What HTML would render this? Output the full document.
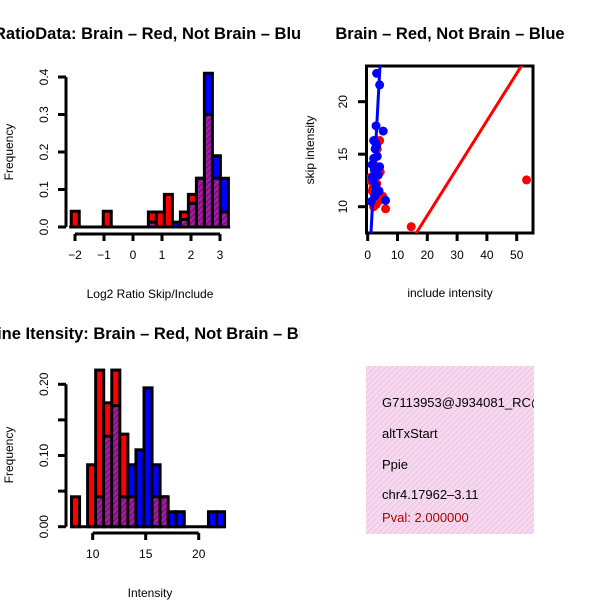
<!DOCTYPE html>
<html><head><meta charset="utf-8"><style>
html,body{margin:0;padding:0;background:#fff;}
svg{display:block;font-family:"Liberation Sans",Arial,sans-serif;}
</style></head><body>
<svg id="s" width="600" height="600" viewBox="0 0 600 600" xmlns="http://www.w3.org/2000/svg">
<defs>
<pattern id="hatch" width="4" height="4" patternUnits="userSpaceOnUse" patternTransform="rotate(45)">
<rect width="4" height="4" fill="#a020a0"/><rect width="1.5" height="4" fill="#7a107a"/></pattern>
<pattern id="pinkhatch" width="4" height="4" patternUnits="userSpaceOnUse" patternTransform="rotate(45)">
<rect width="4" height="4" fill="#f8d8f0"/><rect width="1" height="4" fill="#e4c8e0"/></pattern>
<clipPath id="c1"><rect x="0" y="0" width="300" height="300"/></clipPath>
<clipPath id="c3"><rect x="0" y="300" width="300" height="300"/></clipPath>
<clipPath id="c4"><rect x="366" y="366" width="168" height="168"/></clipPath>
<clipPath id="c2"><rect x="367" y="66" width="166" height="167"/></clipPath>
</defs>
<text x="-6" y="39" font-size="16.5" font-weight="bold" clip-path="url(#c1)">RatioData: Brain – Red, Not Brain – Blue</text>
<text x="450" y="39" font-size="16.5" font-weight="bold" text-anchor="middle">Brain – Red, Not Brain – Blue</text>
<text x="-13" y="339" font-size="16.5" font-weight="bold" clip-path="url(#c3)">Line Itensity: Brain – Red, Not Brain – Blue</text>
<g id="g1"></g><g id="g2"></g><g id="g3"></g>
<g>
<rect x="366" y="366" width="168" height="168" fill="url(#pinkhatch)"/>
<g clip-path="url(#c4)" font-size="13">
<text x="382" y="407">G7113953@J934081_RC@j</text>
<text x="382" y="438">altTxStart</text>
<text x="382" y="469">Ppie</text>
<text x="382" y="499">chr4.17962–3.11</text>
<text x="382" y="522" fill="#b00000">Pval: 2.000000</text>
</g></g>
</svg>
<script>
// Ratio histogram data
const ratioBins=[-2.13,-1.854,-1.578,-1.302,-1.026,-0.75,-0.474,-0.198,0.078,0.354,0.53,0.806,1.082,1.358,1.634,1.91,2.186,2.462,2.738,3.014];
const ratioRed =[0.042,0,0,0,0.042,0,0,0,0,0,0.04,0.04,0.087,0,0.04,0.087,0.13,0.30,0.13,0.04];
const ratioBlue=[0,0,0,0,0,0,0,0,0,0,0.013,0,0,0.013,0.02,0.063,0.13,0.41,0.19,0.13];
const ratioWidth=0.276;
const ratioXTicks=[-2,-1,0,1,2,3];
const ratioXLabels=["−2","−1","0","1","2","3"];
const ratioYTicks=[0,0.1,0.2,0.3,0.4];
// Intensity histogram data
const intBins=[8.0,8.76,9.52,10.28,11.04,11.8,12.56,13.32,14.08,14.84,15.6,16.36,17.12,17.88,18.64,19.4,20.16,20.92,21.68];
const intRed =[0.042,0,0.087,0.22,0.174,0.22,0.13,0.042,0,0,0.042,0.042,0,0,0,0,0,0,0];
const intBlue=[0,0,0,0.042,0.127,0.17,0.042,0.087,0.108,0.195,0.087,0.042,0.021,0.021,0,0,0,0.021,0.021];
const intWidth=0.76;
const intXTicks=[10,15,20];
const intYTicks=[0,0.05,0.1,0.15,0.2];
const intYLabels=["0.00","","0.10","","0.20"];
// Scatter data
const redX=[14.6,53.3,2,6,4.5,4,1.5,3,2.5,1,3.5,5,2.2,1.8,3.2,0.8,2.8,4.2];
const redY=[8.1,12.55,10,9.8,10.8,16.3,11.5,12.2,13,12.8,10.5,11,14,11.8,15.5,12.5,10.2,13.3];
const blueX=[3,4,2.8,5.2,6,2,2.5,3.2,1.5,2.2,3.5,1.8,2.7,3.8,2.3,1.2,3,2.6,2,4,1.6,2.9];
const blueY=[22.7,21.6,17.7,17.2,10.6,16.3,15.5,14.8,14,13.5,13,12.5,12,11.5,11,10.5,15.8,16.1,14.6,13.8,12.8,11.3];
const redLine=[0.14,0.451]; // intercept, slope
const blueLine=[1.7,5.27];
const scXTicks=[0,10,20,30,40,50];
const scYTicks=[10,15,20];

const NS="http://www.w3.org/2000/svg";
function mk(p,t,a){const e=document.createElementNS(NS,t);for(const k in a)e.setAttribute(k,a[k]);p.appendChild(e);return e;}

function hist(g,bins,red,blue,w,sx,sy,ylab){
  for(let i=0;i<bins.length;i++){
    const r=red[i],b=blue[i];if(r<=0&&b<=0)continue;
    const x0=sx(bins[i]),x1=sx(bins[i]+w);
    const hi=Math.max(r,b),lo=Math.min(r,b);
    const top=mk(g,'rect',{x:x0,y:sy(hi),width:x1-x0,height:sy(0)-sy(hi),fill:r>=b?'#ff0000':'#0000ff',stroke:'#000','stroke-width':3});
    
    
    if(lo>0){const p=mk(g,'rect',{x:x0+1.5,y:sy(lo),width:x1-x0-3,height:sy(0)-sy(lo)-1.5,fill:'url(#hatch)'});
      
      
      mk(g,'line',{x1:x0,x2:x1,y1:sy(lo),y2:sy(lo),stroke:'#000','stroke-width':3});}
  }
}
function yaxis(g,ticks,labels,sy,x,name){
  const ax=mk(g,'line',{x1:x,x2:x,y1:sy(ticks[0]),y2:sy(ticks[ticks.length-1]),stroke:'#000','stroke-width':3});
  
  
  ticks.forEach((t,i)=>{mk(g,'line',{x1:x,x2:x-8,y1:sy(t),y2:sy(t),stroke:'#000','stroke-width':3});
    if(labels[i]!==''){const tx=mk(g,'text',{x:0,y:0,'font-size':12,'text-anchor':'middle',transform:`translate(${x-18},${sy(t)}) rotate(-90)`});tx.textContent=labels[i];
    
    }});
}
function xaxis(g,ticks,labels,sx,y,name){
  const ax=mk(g,'line',{x1:sx(ticks[0]),x2:sx(ticks[ticks.length-1]),y1:y,y2:y,stroke:'#000','stroke-width':3});
  
  
  ticks.forEach((t,i)=>{mk(g,'line',{x1:sx(t),x2:sx(t),y1:y,y2:y+7,stroke:'#000','stroke-width':3});
    const tx=mk(g,'text',{x:sx(t),y:y+25,'font-size':12,'text-anchor':'middle'});tx.textContent=labels[i];
    
    });
}
function label(g,txt,x,y,rot,name){const t=mk(g,'text',{x:0,y:0,'font-size':12,'text-anchor':'middle',transform:`translate(${x},${y})`+(rot?' rotate(-90)':'')});t.textContent=txt;
  
  }

// Panel 1
const g1=document.getElementById('g1');
const sx1=v=>75+29*(v+2), sy1=v=>227-375*v;
hist(g1,ratioBins,ratioRed,ratioBlue,ratioWidth,sx1,sy1,'ratio');
mk(g1,'line',{x1:sx1(-2.2),x2:sx1(3.35),y1:227,y2:227,stroke:'#000','stroke-width':3});
yaxis(g1,ratioYTicks,ratioYTicks.map(v=>v.toFixed(1)),sy1,66,'ratio-y-axis');
xaxis(g1,ratioXTicks,ratioXLabels,sx1,234,'ratio-x-axis');
label(g1,'Frequency',13,152,true,'ratio-y-title');
label(g1,'Log2 Ratio Skip/Include',150,298,false,'ratio-x-title');

// Panel 3
const g3=document.getElementById('g3');
const sx3=v=>92.7+10.6*(v-10), sy3=v=>526.7-712*v;
hist(g3,intBins,intRed,intBlue,intWidth,sx3,sy3,'intensity');
mk(g3,'line',{x1:sx3(7.9),x2:sx3(22.5),y1:526.7,y2:526.7,stroke:'#000','stroke-width':3});
yaxis(g3,intYTicks,intYLabels,sy3,66,'intensity-y-axis');
xaxis(g3,intXTicks,intXTicks.map(String),sx3,533,'intensity-x-axis');
label(g3,'Frequency',13,455,true,'intensity-y-title');
label(g3,'Intensity',150,597,false,'intensity-x-title');

// Panel 2 scatter
const g2=document.getElementById('g2');
const sx2=v=>367.7+2.98*v, sy2=v=>206.7-10.5*(v-10);
const box=mk(g2,'rect',{x:366.5,y:66,width:166.5,height:167,fill:'none',stroke:'#000','stroke-width':3});


const pts=mk(g2,'g',{'clip-path':'url(#c2)'});
for(let i=0;i<redX.length;i++){const c=mk(pts,'circle',{cx:sx2(redX[i]),cy:sy2(redY[i]),r:4.5,fill:'#ff0000'});
  
  }
for(let i=0;i<blueX.length;i++){const c=mk(pts,'circle',{cx:sx2(blueX[i]),cy:sy2(blueY[i]),r:4.5,fill:'#0000ff'});
  
  }
const ya=5,yb=25;
const rl=mk(pts,'line',{x1:sx2((ya-redLine[0])/redLine[1]),y1:sy2(ya),x2:sx2((yb-redLine[0])/redLine[1]),y2:sy2(yb),stroke:'#ff0000','stroke-width':3});


const bl=mk(pts,'line',{x1:sx2((ya-blueLine[0])/blueLine[1]),y1:sy2(ya),x2:sx2((yb-blueLine[0])/blueLine[1]),y2:sy2(yb),stroke:'#0000ff','stroke-width':3});


scYTicks.forEach(t=>{mk(g2,'line',{x1:366,x2:358,y1:sy2(t),y2:sy2(t),stroke:'#000','stroke-width':3});
  const tx=mk(g2,'text',{x:0,y:0,'font-size':12,'text-anchor':'middle',transform:`translate(347,${sy2(t)}) rotate(-90)`});tx.textContent=t;
  
  });
scXTicks.forEach(t=>{mk(g2,'line',{x1:sx2(t),x2:sx2(t),y1:233,y2:241,stroke:'#000','stroke-width':3});
  const tx=mk(g2,'text',{x:sx2(t),y:259,'font-size':12,'text-anchor':'middle'});tx.textContent=t;
  
  });
label(g2,'skip intensity',314,150,true,'scatter-y-title');
label(g2,'include intensity',450,297,false,'scatter-x-title');
</script>
</body></html>
